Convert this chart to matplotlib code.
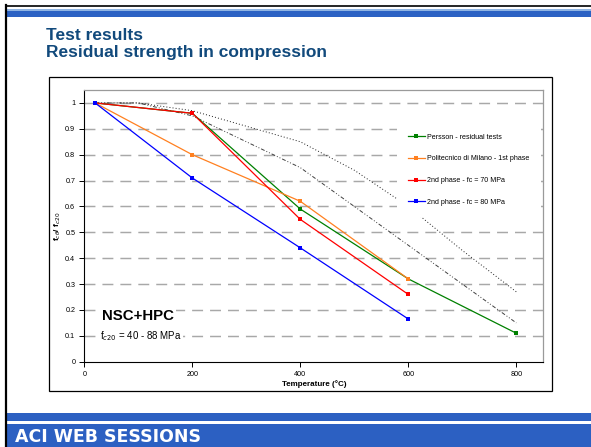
import matplotlib
matplotlib.use("Agg")
import matplotlib.pyplot as plt
from matplotlib.patches import Rectangle
from matplotlib.lines import Line2D

# Temperature (°C) and residual strength ratio f_c(theta) / f_c20
temp_persson = [20, 200, 400, 600, 800]
ratio_persson = [1.0, 0.96, 0.59, 0.32, 0.11]

temp_polimi = [20, 200, 400, 600]
ratio_polimi = [1.0, 0.80, 0.62, 0.32]

temp_fc70 = [20, 200, 400, 600]
ratio_fc70 = [1.0, 0.96, 0.55, 0.26]

temp_fc80 = [20, 200, 400, 600]
ratio_fc80 = [1.0, 0.71, 0.44, 0.165]

# Design reference curves (calcareous / siliceous aggregates)
temp_ref = [20, 100, 200, 300, 400, 500, 600, 700, 800]
ratio_calcareous = [1.0, 1.0, 0.97, 0.91, 0.85, 0.74, 0.60, 0.43, 0.27]
ratio_siliceous = [1.0, 1.0, 0.95, 0.85, 0.75, 0.60, 0.45, 0.30, 0.15]

series_labels = [
    "Persson - residual tests",
    "Politecnico di Milano - 1st phase",
    "2nd phase - fc = 70 MPa",
    "2nd phase - fc = 80 MPa",
]
series_colors = ["#008000", "#FF8020", "#FF0000", "#0000FF"]

x_ticks = [0, 200, 400, 600, 800]
y_ticks = [0, 0.1, 0.2, 0.3, 0.4, 0.5, 0.6, 0.7, 0.8, 0.9, 1.0]

W, H = 591, 447
fig = plt.figure(figsize=(W / 100, H / 100), dpi=100)
fig.patch.set_facecolor("white")

def fx(px):
    return px / W

def fy(py):
    return 1 - py / H

# Slide frame: black left edge and top rule
fig.add_artist(Line2D([fx(6), fx(6)], [fy(5), fy(447)], color="black", lw=1.6))
fig.add_artist(Line2D([fx(6), 1], [fy(5.5), fy(5.5)], color="black", lw=1.2))

# Top blue band
fig.add_artist(Rectangle((fx(7), fy(17)), 1, (17 - 9) / H, transform=fig.transFigure,
                         facecolor="#2B62C4", edgecolor="none"))
fig.add_artist(Rectangle((fx(7), fy(11)), 1, 2 / H, transform=fig.transFigure,
                         facecolor="#8FB4E3", edgecolor="none"))

# Bottom blue band with white rule
fig.add_artist(Rectangle((fx(7), 0), 1, (447 - 413) / H, transform=fig.transFigure,
                         facecolor="#2C60C2", edgecolor="none"))
fig.add_artist(Rectangle((fx(7), fy(424)), 1, 3 / H, transform=fig.transFigure,
                         facecolor="white", edgecolor="none"))
fig.text(fx(15), fy(446.5), "ACI WEB SESSIONS", color="white", fontsize=12.5,
         fontweight="bold", family="DejaVu Sans", ha="left", va="bottom")

# Slide title
title_color = "#124A7C"
fig.text(fx(46), fy(39.5), "Test results", color=title_color, fontsize=12.5,
         fontweight="bold", family="Liberation Sans", va="baseline")
fig.text(fx(46), fy(57.5), "Residual strength in compression", color=title_color,
         fontsize=12.5, fontweight="bold", family="Liberation Sans", va="baseline")

# Chart frame
fig.add_artist(Rectangle((fx(49), fy(391)), (552 - 49) / W, (391 - 77) / H,
                         transform=fig.transFigure, facecolor="none",
                         edgecolor="black", lw=0.9))

ax = fig.add_axes([fx(84.3), fy(361.7), (543.3 - 84.3) / W, (361.7 - 90) / H])
ax.set_xlim(0, 850)
ax.set_ylim(0, 1.05)

for s in ["top", "right"]:
    ax.spines[s].set_color("#9A9A9A")
    ax.spines[s].set_linewidth(0.9)
for s in ["left", "bottom"]:
    ax.spines[s].set_color("black")
    ax.spines[s].set_linewidth(0.8)

ax.set_xticks(x_ticks)
ax.set_yticks(y_ticks)
ax.set_yticklabels(["0", "0.1", "0.2", "0.3", "0.4", "0.5", "0.6", "0.7", "0.8", "0.9", "1"])
ax.tick_params(axis="both", direction="out", length=3.5, width=0.7, color="black",
               labelsize=5.2, pad=3)
for lab in ax.get_xticklabels() + ax.get_yticklabels():
    lab.set_family("Liberation Sans")

# Horizontal dashed grid
for yv in y_ticks[1:]:
    ax.axhline(yv, color="#A8A8A8", lw=1.05, ls=(0, (7.5, 4.8)), zorder=1)

# Reference curves
ax.plot(temp_ref, ratio_calcareous, color="#202020", lw=0.7, ls=(0, (1, 2.2)), zorder=2)
ax.plot(temp_ref, ratio_siliceous, color="#404040", lw=0.7,
        ls=(0, (4, 2, 1, 2, 1, 2)), zorder=2)

series = [
    (temp_persson, ratio_persson),
    (temp_polimi, ratio_polimi),
    (temp_fc70, ratio_fc70),
    (temp_fc80, ratio_fc80),
]
for (t, r), lab, col in zip(series, series_labels, series_colors):
    ax.plot(t, r, color=col, lw=0.9, marker="s", markersize=3.3,
            markeredgewidth=0, label=lab, zorder=3)

leg = ax.legend(loc="upper left", bbox_to_anchor=((397 - 84.3) / 459, (361.7 - 123) / 271.7),
                frameon=True, fancybox=False, facecolor="white", edgecolor="none",
                framealpha=1, handlelength=2.4, handletextpad=0.35,
                labelspacing=2.05, borderpad=1.55, borderaxespad=0, numpoints=1,
                prop={"family": "Liberation Sans", "size": 5.1})
leg.set_zorder(5)

ax.set_xlabel("Temperature (°C)", fontsize=5.8, fontweight="bold",
              family="Liberation Sans", labelpad=2)
ax.set_ylabel(r"f$_{c\theta}$/ f$_{c20}$", fontsize=6, fontweight="bold",
              family="Liberation Sans", labelpad=1.5)

ax.text(100, 0.176, "NSC+HPC", fontsize=10.8, fontweight="bold", family="Liberation Sans",
        ha="center", va="center", zorder=6,
        bbox=dict(facecolor="white", edgecolor="none", pad=1.5))
ax.text(104, 0.10, r"f$_{c20}$ = 40 - 88 MPa", fontsize=7, family="Liberation Sans",
        ha="center", va="center", zorder=6,
        bbox=dict(facecolor="white", edgecolor="none", pad=1.0))

fig.savefig("out.png", dpi=100)
